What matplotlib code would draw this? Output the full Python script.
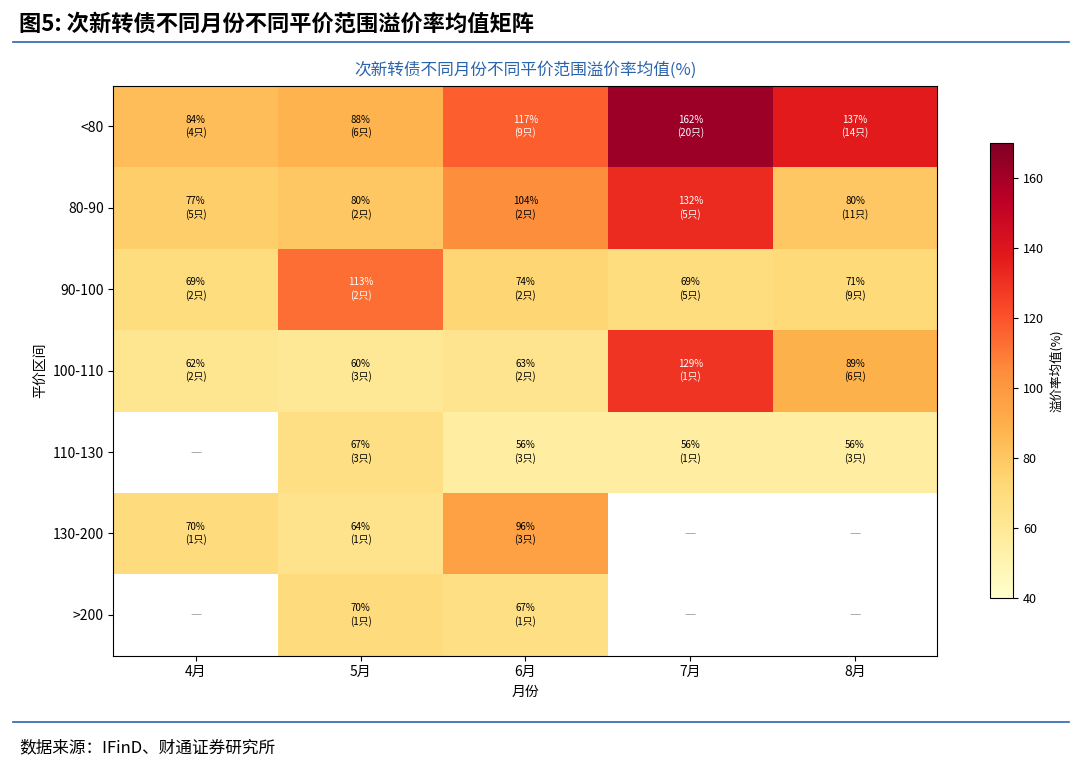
import numpy as np
import matplotlib.pyplot as plt
from matplotlib.lines import Line2D

plt.rcParams['font.family'] = ['Noto Sans CJK SC', 'DejaVu Sans']

months = ['4月', '5月', '6月', '7月', '8月']
ranges = ['<80', '80-90', '90-100', '100-110', '110-130', '130-200', '>200']
premium = [
    [84, 88, 117, 162, 137],
    [77, 80, 104, 132, 80],
    [69, 113, 74, 69, 71],
    [62, 60, 63, 129, 89],
    [None, 67, 56, 56, 56],
    [70, 64, 96, None, None],
    [None, 70, 67, None, None],
]
counts = [
    [4, 6, 9, 20, 14],
    [5, 2, 2, 5, 11],
    [2, 2, 2, 5, 9],
    [2, 3, 2, 1, 6],
    [0, 3, 3, 1, 3],
    [1, 1, 3, 0, 0],
    [0, 1, 1, 0, 0],
]

data = np.array([[np.nan if v is None else v for v in row] for row in premium], dtype=float)

fig = plt.figure(figsize=(10.8, 7.65), dpi=100)
fig.text(0.018, 0.968, '图5: 次新转债不同月份不同平价范围溢价率均值矩阵', fontsize=16,
         fontweight='bold', va='center', ha='left')
fig.add_artist(Line2D([0.012, 0.99], [0.945, 0.945], color='#2a63ad', lw=1.2))
fig.add_artist(Line2D([0.012, 0.99], [0.056, 0.056], color='#2a63ad', lw=1.2))
fig.text(0.018, 0.022, '数据来源：IFinD、财通证券研究所', fontsize=12, va='center', ha='left')

ax = fig.add_axes([0.105, 0.143, 0.763, 0.745])
cmap = plt.get_cmap('YlOrRd').copy()
cmap.set_bad('white')
im = ax.imshow(np.ma.masked_invalid(data), cmap=cmap, vmin=40, vmax=170, aspect='auto')

for i in range(len(ranges)):
    for j in range(len(months)):
        v = data[i, j]
        if np.isnan(v):
            ax.text(j, i, '—', ha='center', va='center', color='#aaaaaa', fontsize=9)
        else:
            c = 'white' if v > 110 else 'black'
            ax.text(j, i, f'{int(v)}%\n({counts[i][j]}只)', ha='center', va='center',
                    color=c, fontsize=7, linespacing=1.3)

ax.set_xticks(range(len(months)))
ax.set_xticklabels(months, fontsize=10)
ax.set_yticks(range(len(ranges)))
ax.set_yticklabels(ranges, fontsize=10)
ax.set_xlabel('月份', fontsize=10)
ax.set_ylabel('平价区间', fontsize=10)
ax.set_title('次新转债不同月份不同平价范围溢价率均值(%)', fontsize=12, color='#2a63ad', pad=8)

cax = fig.add_axes([0.917, 0.218, 0.021, 0.595])
cb = fig.colorbar(im, cax=cax)
cb.set_ticks([40, 60, 80, 100, 120, 140, 160])
cb.ax.tick_params(labelsize=9)
cb.set_label('溢价率均值(%)', fontsize=9)

fig.savefig('out.png', dpi=100)
